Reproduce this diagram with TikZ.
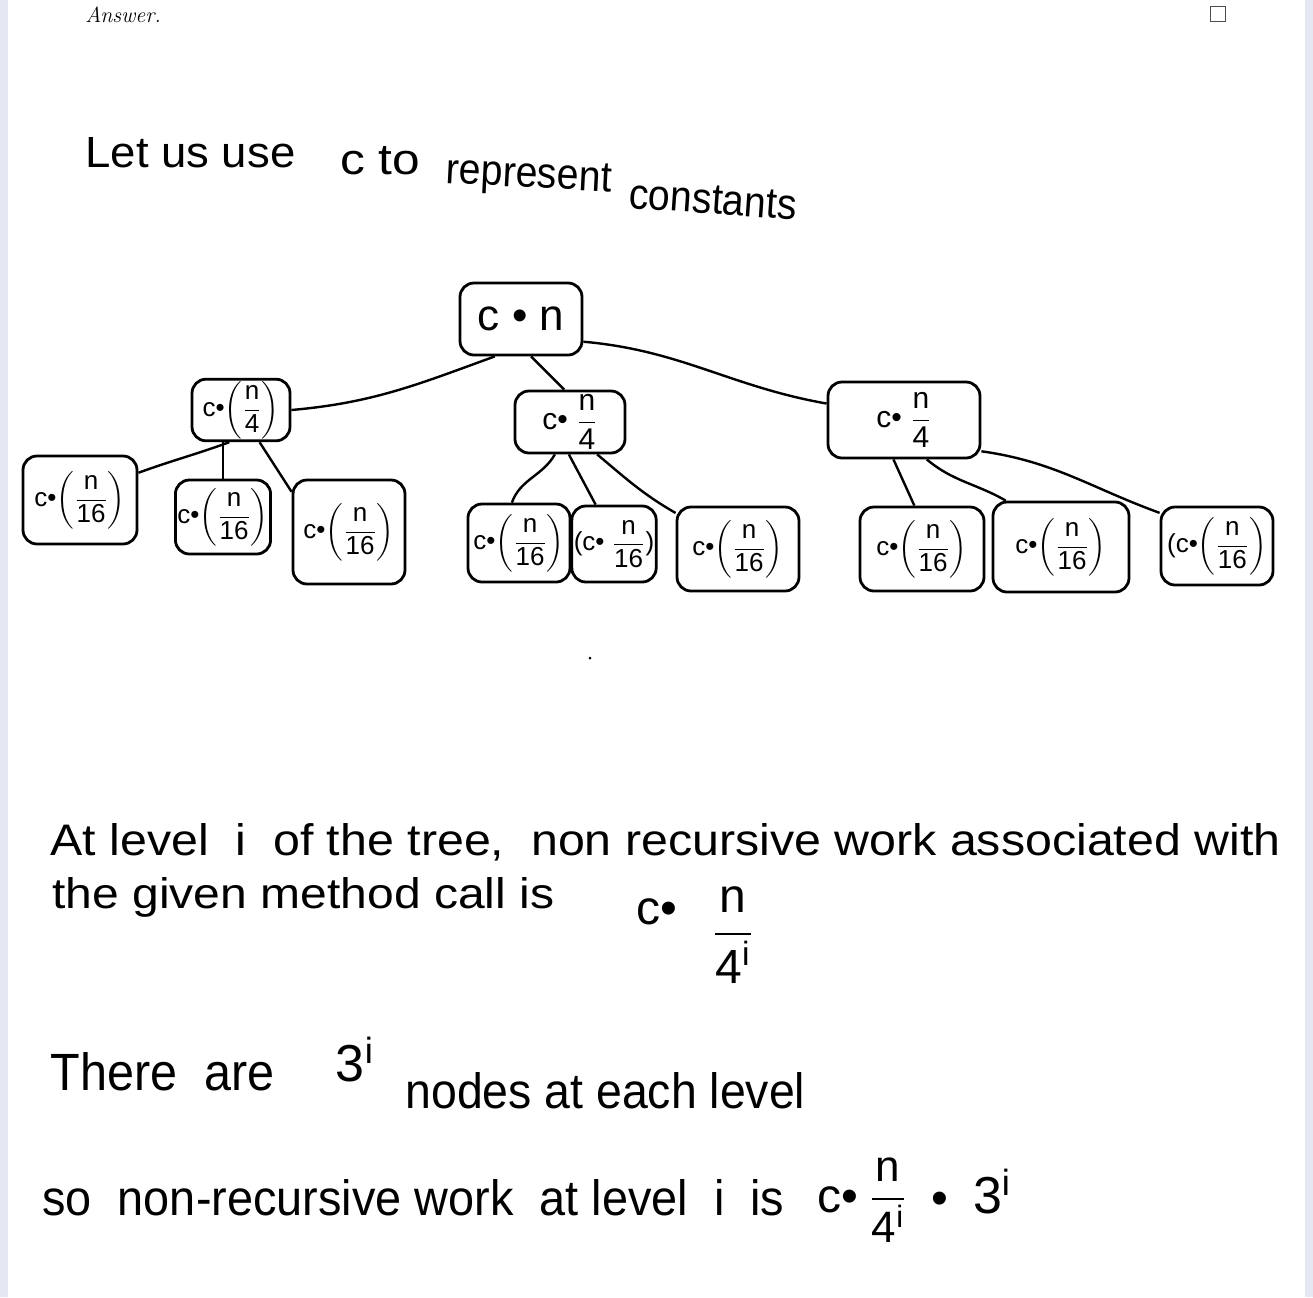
\documentclass[tikz,border=0pt]{standalone}
\usepackage{fontspec}
\usepackage{amsmath}
\usepackage{graphicx}
\newfontfamily\hand{Liberation Sans}
\newcommand{\fr}[2]{\ensuremath{\dfrac{\mbox{#1}}{\mbox{#2}}}}
\newcommand{\pfr}[2]{\ensuremath{\left(\dfrac{\mbox{#1}}{\mbox{#2}}\right)}}
\definecolor{bandcol}{RGB}{228,232,242}
\begin{document}
\begin{tikzpicture}[x=0.5pt,y=0.5pt,
  hbox/.style={draw, rounded corners=7pt, line width=1.4pt, inner sep=1pt, font=\hand\fontsize{13}{15}\selectfont},
  edge/.style={line width=1.2pt},
  handtxt/.style={anchor=base west, inner sep=0pt, font=\hand},
  plain/.style={inner sep=0pt, font=\hand}]
\useasboundingbox (0,0) rectangle (1313,-1297);
\fill[bandcol] (0,0) rectangle (8,-1297);
\fill[bandcol] (1305,0) rectangle (1313,-1297);
% header
\node[anchor=base west, inner sep=0pt, font=\fontsize{11}{12}\selectfont\itshape] (ans) at (85,-22) {Answer.};
\node[draw=black!70, line width=0.6pt, minimum size=7.5pt, inner sep=0pt] (chk) at (1218,-14) {};
% intro line
\node[handtxt] (t1) at (85,-167) {\resizebox{105pt}{15pt}{Let us use}};
\node[handtxt] (t2) at (340,-174) {\resizebox{40pt}{14pt}{c to}};
\node[handtxt, rotate=-3] (t3) at (445,-183) {\resizebox{83pt}{14pt}{represent}};
\node[handtxt, rotate=-4] (t4) at (628,-208) {\resizebox{84pt}{14pt}{constants}};
% tree
\node[hbox, minimum width=61pt, minimum height=36pt, font=\hand\fontsize{22}{24}\selectfont] (root) at (521,-319) {c • n};
\node[hbox, minimum width=49pt, minimum height=30pt] (l1a) at (241,-410) {c•\pfr{n}{4}};
\node[hbox, minimum width=55pt, minimum height=31pt, font=\hand\fontsize{15}{17}\selectfont] (l1b) at (570,-422) {c• \fr{n}{4}};
\node[hbox, minimum width=76pt, minimum height=38pt, font=\hand\fontsize{15}{17}\selectfont] (l1c) at (904,-420) {c• \fr{n}{4}};
\node[hbox, minimum width=57pt, minimum height=44pt] (m1) at (80,-500) {c•\pfr{n}{16}};
\node[hbox, minimum width=45pt, minimum height=37pt] (m2) at (223,-517) {c•\pfr{n}{16}};
\node[hbox, minimum width=56pt, minimum height=52pt] (m3) at (349,-532) {c•\pfr{n}{16}};
\node[hbox, minimum width=51pt, minimum height=39pt] (m4) at (519,-543) {c•\pfr{n}{16}};
\node[hbox, minimum width=41pt, minimum height=38pt] (m5) at (614,-544) {(c• \fr{n}{16})};
\node[hbox, minimum width=61pt, minimum height=42pt] (m6) at (738,-549) {c•\pfr{n}{16}};
\node[hbox, minimum width=62pt, minimum height=42pt] (m7) at (922,-549) {c•\pfr{n}{16}};
\node[hbox, minimum width=68pt, minimum height=45pt] (m8) at (1061,-547) {c•\pfr{n}{16}};
\node[hbox, minimum width=56pt, minimum height=39pt] (m9) at (1217,-546) {(c•\pfr{n}{16}};
% edges
\draw[edge] (root.235) to[out=200,in=5] (l1a.east);
\draw[edge] (root.285) -- (l1b.100);
\draw[edge] (root.-20) to[out=-5,in=170] (l1c.168);
\draw[edge] (l1a.250) to[out=200,in=20] (m1.25);
\draw[edge] (l1a.south -| m2.north) -- (m2.north);
\draw[edge] (l1a.300) -- (m3.145);
\draw[edge] (l1b.245) to[out=240,in=70] (m4.100);
\draw[edge] (l1b.268) -- (m5.115);
\draw[edge] (l1b.310) to[out=-40,in=150] (m6.150);
\draw[edge] (l1c.255) -- (m7.100);
\draw[edge] (l1c.300) to[out=-40,in=150] (m8.140);
\draw[edge] (l1c.-22) to[out=-8,in=160] (m9.150);
\fill (590,-658) circle (1.5);
% level text
\node[handtxt] (a1) at (50,-855) {\resizebox{615pt}{16pt}{At level \ i \ of the tree, \ non recursive work associated with}};
\node[handtxt] (a2) at (52,-908) {\resizebox{251pt}{15.5pt}{the given method call is}};
\node[plain, font=\hand\fontsize{24}{26}\selectfont] (f1c) at (657,-912) {c•};
\node[plain, font=\hand\fontsize{24}{26}\selectfont] (f1) at (733,-935) {\fr{n}{4\textsuperscript{i}}};
% nodes count
\node[handtxt] (b1) at (50,-1090) {\resizebox{112pt}{19pt}{There \ are}};
\node[plain, font=\hand\fontsize{26}{28}\selectfont] (b2) at (355,-1060) {3\textsuperscript{i}};
\node[handtxt] (b3) at (405,-1108) {\resizebox{200pt}{18pt}{nodes at each level}};
% final line
\node[handtxt] (c1) at (42,-1215) {\resizebox{371pt}{18pt}{so \ non-recursive work \ at level \ i \ is}};
\node[plain, font=\hand\fontsize{24}{26}\selectfont] (c2) at (838,-1200) {c•};
\node[plain, font=\hand\fontsize{22}{24}\selectfont] (c3) at (888,-1200) {\fr{n}{4\textsuperscript{i}}};
\node[plain, font=\hand\fontsize{24}{26}\selectfont] (c4) at (940,-1203) {•};
\node[plain, font=\hand\fontsize{26}{28}\selectfont] (c5) at (992,-1192) {3\textsuperscript{i}};
\end{tikzpicture}
\end{document}
